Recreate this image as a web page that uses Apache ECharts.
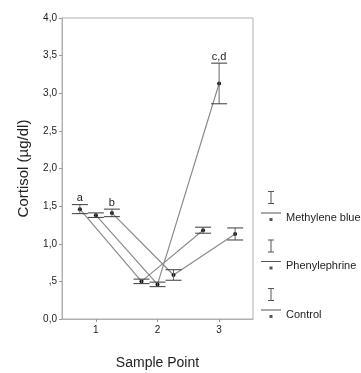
<!DOCTYPE html>
<html>
<head>
<meta charset="utf-8">
<script src="https://cdn.jsdelivr.net/npm/echarts@6/dist/echarts.min.js"></script>
<style>html,body{margin:0;padding:0;background:#fff;}#c{width:361px;height:373px;}</style>
</head>
<body>
<div id="c"></div>
<script>
// ---- data ----
const samplePoints = [1, 2, 3];
const seriesNames = ['Methylene blue', 'Phenylephrine', 'Control'];
const xOffsets = [-0.26, 0, 0.26];
const meansMB = [1.46, 0.50, 1.18];
const meansPh = [1.38, 0.46, 3.13];
const meansCo = [1.41, 0.585, 1.13];
const errMB = [0.06, 0.03, 0.04];
const errPh = [0.03, 0.03, 0.27];
const errCo = [0.05, 0.07, 0.08];
const annMB = ['a', '', ''];
const annPh = ['', '', 'c,d'];
const annCo = ['b', '', ''];
const yTicks = [0, 0.5, 1, 1.5, 2, 2.5, 3, 3.5, 4];

const means = [meansMB, meansPh, meansCo];
const errs = [errMB, errPh, errCo];
const anns = [annMB, annPh, annCo];
const FONT = 'Liberation Sans, Arial, sans-serif';

const series = [];
seriesNames.forEach((name, i) => {
  const pts = samplePoints.map((s, k) => [s + xOffsets[i], means[i][k]]);
  series.push({
    type: 'line', name: name, data: pts,
    symbol: 'circle', symbolSize: 4,
    itemStyle: { color: '#111' },
    lineStyle: { color: '#8a8a8a', width: 1.2 },
    z: 2
  });
  series.push({
    type: 'custom', name: name + ' err',
    data: samplePoints.map((s, k) => [s + xOffsets[i], means[i][k], errs[i][k]]),
    z: 3,
    renderItem: function (params, api) {
      const x = api.value(0), y = api.value(1), e = api.value(2);
      const top = api.coord([x, y + e]);
      const bot = api.coord([x, y - e]);
      const hw = 8;
      const st = { stroke: '#3a3a3a', lineWidth: 1 };
      const children = [
        { type: 'line', shape: { x1: top[0], y1: top[1], x2: bot[0], y2: bot[1] }, style: { stroke: '#666', lineWidth: 1 } },
        { type: 'line', shape: { x1: top[0] - hw, y1: top[1], x2: top[0] + hw, y2: top[1] }, style: st },
        { type: 'line', shape: { x1: bot[0] - hw, y1: bot[1], x2: bot[0] + hw, y2: bot[1] }, style: st }
      ];
      const a = anns[i][params.dataIndex];
      if (a) {
        children.push({ type: 'text', style: { text: a, x: top[0], y: top[1] - 1, align: 'center', verticalAlign: 'bottom', fontSize: 11, fontFamily: FONT, fill: '#222' } });
      }
      return { type: 'group', children: children };
    }
  });
});

const icon = 'path://M7,0 L13,0 L13,1 L10.5,1 L10.5,12 L13,12 L13,13 L7,13 L7,12 L9.5,12 L9.5,1 L7,1 Z ' +
  'M0,21.5 L20,21.5 L20,22.5 L0,22.5 Z ' +
  'M8.5,27 L11.5,27 L11.5,30 L8.5,30 Z';

const chart = echarts.init(document.getElementById('c'), null, { renderer: 'canvas' });
chart.setOption({
  animation: false,
  backgroundColor: '#fff',
  grid: { left: 62, top: 18, right: 108, bottom: 54, outerBoundsMode: 'none', containLabel: false,
    show: true, borderColor: '#b0b0b0', borderWidth: 1, backgroundColor: 'transparent' },
  legend: {
    data: seriesNames,
    orient: 'vertical', left: 261, top: 183, padding: 0,
    itemWidth: 20, itemHeight: 30, itemGap: 2.5, itemTextGap: 3,
    icon: icon,
    itemStyle: { color: '#555' },
    formatter: name => '\n' + name,
    textStyle: { fontFamily: FONT, fontSize: 11, color: '#222', lineHeight: 23 }
  },
  xAxis: {
    type: 'value', min: 0.45, max: 3.55,
    name: 'Sample Point', nameLocation: 'middle', nameGap: 37,
    nameTextStyle: { fontFamily: FONT, fontSize: 14, color: '#222' },
    axisLine: { show: true, lineStyle: { color: '#b0b0b0' } },
    axisTick: { show: true, customValues: samplePoints, length: 3, lineStyle: { color: '#999' } },
    axisLabel: { customValues: samplePoints, fontFamily: FONT, fontSize: 10, color: '#222', margin: 6, formatter: v => String(v) },
    splitLine: { show: false }
  },
  yAxis: {
    type: 'value', min: 0, max: 4, interval: 0.5,
    name: 'Cortisol (µg/dl)', nameLocation: 'middle', nameGap: 31,
    nameTextStyle: { fontFamily: FONT, fontSize: 15, color: '#222' },
    axisLine: { show: true, lineStyle: { color: '#b0b0b0' } },
    axisTick: { show: true, length: 3, lineStyle: { color: '#999' } },
    axisLabel: { fontFamily: FONT, fontSize: 10, color: '#222', margin: 5,
      customValues: yTicks,
      formatter: v => (Math.abs(v - 0.5) < 1e-9 ? ',5' : v.toFixed(1).replace('.', ',')) },
    splitLine: { show: false }
  },
  series: series
});
</script>
</body>
</html>
